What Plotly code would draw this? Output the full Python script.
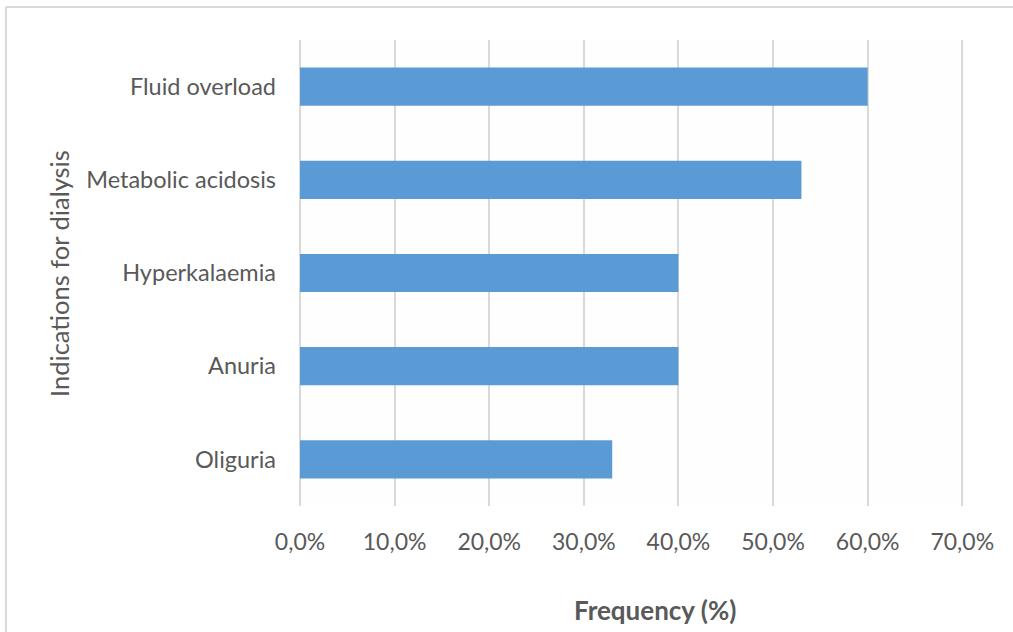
import plotly.graph_objects as go

categories = ["Fluid overload", "Metabolic acidosis", "Hyperkalaemia", "Anuria", "Oliguria"]
frequency = [0.60, 0.53, 0.40, 0.40, 0.33]
tick_vals = [0.0, 0.1, 0.2, 0.3, 0.4, 0.5, 0.6, 0.7]
tick_text = ["0,0%", "10,0%", "20,0%", "30,0%", "40,0%", "50,0%", "60,0%", "70,0%"]

FONT = "Lato"
GREY = "#595959"
GRID = "#d9d9d9"

fig = go.Figure(go.Bar(
    x=frequency, y=categories, orientation="h",
    marker=dict(color="#5B9BD5", line=dict(width=0)),
))

W, H = 1013, 632
X_MAX = 0.705
L, T, B = 300, 40, 126
pw = 662 * X_MAX / 0.7
R = W - L - pw
ph = H - T - B

def px(x):
    return (x - L) / pw

def py(y):
    return (H - B - y) / ph

fig.update_layout(
    width=W, height=H,
    margin=dict(l=L, r=R, t=T, b=B, pad=0),
    paper_bgcolor="#ffffff", plot_bgcolor="#fefefe",
    bargap=0.59,
    showlegend=False,
    font=dict(family=FONT, color=GREY),
    xaxis=dict(range=[0, X_MAX], tickvals=tick_vals, ticktext=tick_text,
               showgrid=True, gridcolor=GRID, gridwidth=2,
               zeroline=False, showline=False,
               tickfont=dict(family=FONT, size=23, color=GREY),
               ticks="", ticklabelstandoff=20),
    yaxis=dict(autorange="reversed", showgrid=False, zeroline=False, showline=False,
               tickfont=dict(family=FONT, size=23.5, color=GREY),
               ticks="", ticklabelstandoff=23),
    shapes=[
        dict(type="line", xref="paper", yref="paper", x0=px(300), x1=px(300), y0=0, y1=1,
             line=dict(color=GRID, width=2), layer="below"),
        dict(type="line", xref="paper", yref="paper", x0=px(6), x1=px(1013), y0=py(7), y1=py(7),
             line=dict(color=GRID, width=2)),
        dict(type="line", xref="paper", yref="paper", x0=px(6), x1=px(6), y0=py(7), y1=py(632),
             line=dict(color=GRID, width=2)),
    ],
    annotations=[
        dict(text="<b>Frequency (%)</b>", xref="paper", yref="paper",
             x=px(655), y=py(610), xanchor="center", yanchor="middle", showarrow=False,
             font=dict(family=FONT, size=26, color=GREY)),
        dict(text="Indications for dialysis", xref="paper", yref="paper",
             x=px(59), y=py(273), xanchor="center", yanchor="middle",
             showarrow=False, textangle=-90,
             font=dict(family=FONT, size=25.5, color=GREY)),
    ],
)

fig.write_html("out.html", config={"displayModeBar": False},
               post_script="document.body.style.margin='0';document.body.style.overflow='hidden';document.documentElement.style.overflow='hidden';")
